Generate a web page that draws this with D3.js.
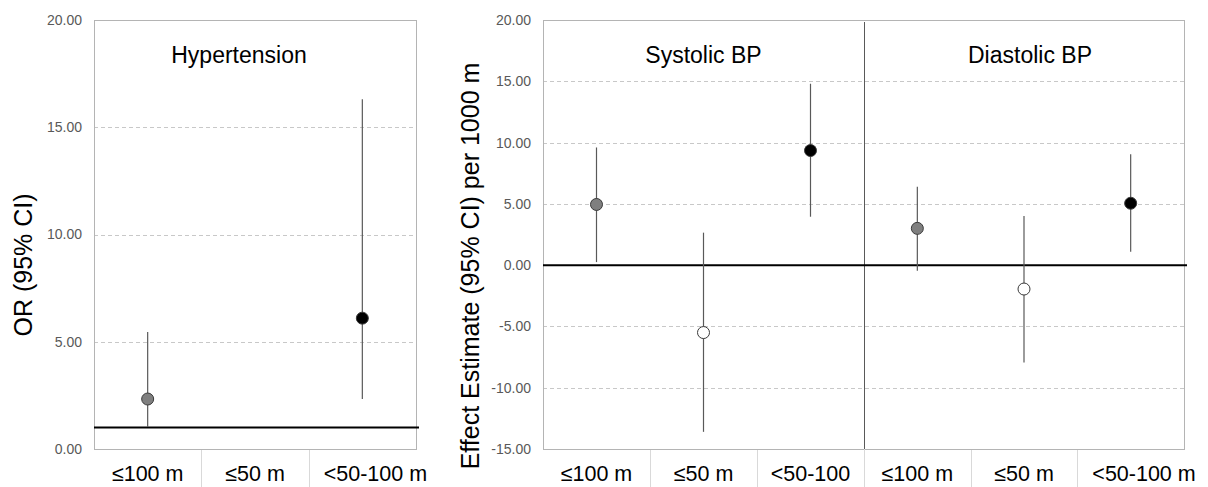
<!DOCTYPE html>
<html>
<head>
<meta charset="utf-8">
<script src="https://cdn.jsdelivr.net/npm/d3@7"></script>
<style>
  body { margin: 0; background: #fff; }
  svg { display: block; font-family: "Liberation Sans", Arial, sans-serif; }
</style>
</head>
<body>
<script>
// categories of distance
const categories = ["≤100 m", "≤50 m", "<50-100 m"];

// Hypertension odds ratios (no estimate for ≤50 m)
const orEst  = [2.33, null, 6.10];
const orLow  = [1.02, null, 2.33];
const orHigh = [5.45, null, 16.3];

// Systolic BP effect estimates per 1000 m
const sbpEst  = [4.95, -5.50, 9.35];
const sbpLow  = [0.25, -13.6, 3.95];
const sbpHigh = [9.60, 2.65, 14.8];

// Diastolic BP effect estimates per 1000 m
const dbpEst  = [3.00, -1.95, 5.05];
const dbpLow  = [-0.45, -7.95, 1.10];
const dbpHigh = [6.40, 4.00, 9.05];

const orTicks = [0, 5, 10, 15, 20];
const effectTicks = [-15, -10, -5, 0, 5, 10, 15, 20];
const panelTitles = ["Hypertension", "Systolic BP", "Diastolic BP"];
const markerFills = ["#7f7f7f", "#ffffff", "#000000"];

const W = 1208, H = 487;
const plotTop = 20, plotBottom = 449;

const svg = d3.select("body").append("svg")
    .attr("width", W)
    .attr("height", H);

function rows(est, lo, hi) {
    return categories.map(function (c, i) {
        return { cat: c, est: est[i], lo: lo[i], hi: hi[i], fill: markerFills[i] };
    }).filter(function (d) { return d.est != null; });
}

// y scales
const yOR = d3.scaleLinear().domain([0, 20]).range([plotBottom, plotTop]);
const yEff = d3.scaleLinear().domain([-15, 20]).range([plotBottom, plotTop]);

const panels = [
    { title: panelTitles[0], x0: 94, x1: 416, y: yOR, ref: 1, data: rows(orEst, orLow, orHigh), titleDx: -16, refExtra: 3 },
    { title: panelTitles[1], x0: 543, x1: 864, y: yEff, ref: 0, data: rows(sbpEst, sbpLow, sbpHigh), titleDx: 0, refExtra: 0 },
    { title: panelTitles[2], x0: 864, x1: 1184, y: yEff, ref: 0, data: rows(dbpEst, dbpLow, dbpHigh), titleDx: 6, refExtra: 3 }
];

// y axes with tick labels
function drawYAxis(scale, ticks, x) {
    const g = svg.append("g")
        .attr("transform", "translate(" + x + ",0)")
        .call(d3.axisLeft(scale).tickValues(ticks).tickSize(0).tickPadding(12)
            .tickFormat(function (d) { return d.toFixed(2); }));
    g.select(".domain").remove();
    g.selectAll("text")
        .attr("fill", "#595959")
        .style("font-size", "14px")
        .style("font-family", "'Liberation Sans', Arial, sans-serif");
}
drawYAxis(yOR, orTicks, 94);
drawYAxis(yEff, effectTicks, 543);

// gridlines
function drawGrid(scale, ticks, x0, x1) {
    svg.append("g").selectAll("line")
        .data(ticks.filter(function (t) { return t !== scale.domain()[0] && t !== scale.domain()[1]; }))
        .enter().append("line")
        .attr("x1", x0).attr("x2", x1)
        .attr("y1", function (d) { return Math.round(scale(d)) + 0.5; })
        .attr("y2", function (d) { return Math.round(scale(d)) + 0.5; })
        .attr("stroke", "#c8c8c8")
        .attr("stroke-dasharray", "4,3");
}
drawGrid(yOR, orTicks, 94, 416);
drawGrid(yEff, effectTicks, 543, 1184);

// plot borders
svg.append("rect").attr("x", 94.5).attr("y", plotTop + 0.5).attr("width", 322).attr("height", plotBottom - plotTop)
    .attr("fill", "none").attr("stroke", "#b4b4b4");
svg.append("rect").attr("x", 543.5).attr("y", plotTop + 0.5).attr("width", 641).attr("height", plotBottom - plotTop)
    .attr("fill", "none").attr("stroke", "#b4b4b4");
// divider between systolic and diastolic
svg.append("line").attr("x1", 864.5).attr("x2", 864.5).attr("y1", plotTop + 2).attr("y2", plotBottom + 3)
    .attr("stroke", "#595959");

panels.forEach(function (p, pi) {
    const x = d3.scaleBand().domain(categories).range([p.x0, p.x1]);
    const g = svg.append("g");

    // reference line
    g.append("line")
        .attr("x1", p.x0).attr("x2", p.x1 + p.refExtra)
        .attr("y1", p.y(p.ref)).attr("y2", p.y(p.ref))
        .attr("stroke", "#000").attr("stroke-width", 2);

    // confidence intervals
    g.selectAll(".ci").data(p.data).enter().append("line")
        .attr("class", "ci")
        .attr("x1", function (d) { return x(d.cat) + x.bandwidth() / 2; })
        .attr("x2", function (d) { return x(d.cat) + x.bandwidth() / 2; })
        .attr("y1", function (d) { return p.y(d.lo); })
        .attr("y2", function (d) { return p.y(d.hi); })
        .attr("stroke", "#595959").attr("stroke-width", 1.2);

    // point estimates
    g.selectAll(".pt").data(p.data).enter().append("circle")
        .attr("class", "pt")
        .attr("cx", function (d) { return x(d.cat) + x.bandwidth() / 2; })
        .attr("cy", function (d) { return p.y(d.est); })
        .attr("r", 6)
        .attr("fill", function (d) { return d.fill; })
        .attr("stroke", "#3a3a3a").attr("stroke-width", 1);

    // title
    g.append("text")
        .attr("x", (p.x0 + p.x1) / 2 + p.titleDx)
        .attr("y", 63)
        .attr("text-anchor", "middle")
        .style("font-size", "23px")
        .text(p.title);

    // category dividers below the plot
    g.selectAll(".div").data(categories.slice(1)).enter().append("line")
        .attr("x1", function (d) { return Math.round(x(d)) + 0.5; })
        .attr("x2", function (d) { return Math.round(x(d)) + 0.5; })
        .attr("y1", plotBottom + 1).attr("y2", H)
        .attr("stroke", "#d9d9d9");

    // category labels
    categories.forEach(function (c, i) {
        const last = i === categories.length - 1;
        const t = g.append("text")
            .attr("y", 481)
            .style("font-size", "21.5px")
            .text(c);
        const w = t.node().getComputedTextLength();
        if (w > x.bandwidth() - 10 && last && pi !== 1) {
            // long label in the last cell spills over to the right
            t.attr("x", x(c) + 15).attr("text-anchor", "start");
        } else if (w > x.bandwidth() - 10) {
            // label wraps, only its first line is visible in the cell
            const words = c.split(" ");
            t.text(words.slice(0, -1).join(" "))
                .attr("x", x(c) + x.bandwidth() / 2).attr("text-anchor", "middle");
        } else {
            t.attr("x", x(c) + x.bandwidth() / 2).attr("text-anchor", "middle");
        }
    });
});

// divider line between the two blocks of the right panel, below the plot
svg.append("line").attr("x1", 864.5).attr("x2", 864.5).attr("y1", plotBottom).attr("y2", H)
    .attr("stroke", "#d9d9d9");

// y axis titles
svg.append("text")
    .attr("transform", "translate(23,265) rotate(-90)")
    .attr("text-anchor", "middle")
    .attr("dominant-baseline", "central")
    .style("font-size", "25px")
    .text("OR (95% CI)");

svg.append("text")
    .attr("transform", "translate(470,266) rotate(-90)")
    .attr("text-anchor", "middle")
    .attr("dominant-baseline", "central")
    .style("font-size", "25px")
    .text("Effect Estimate (95% CI) per 1000 m");
</script>
</body>
</html>
